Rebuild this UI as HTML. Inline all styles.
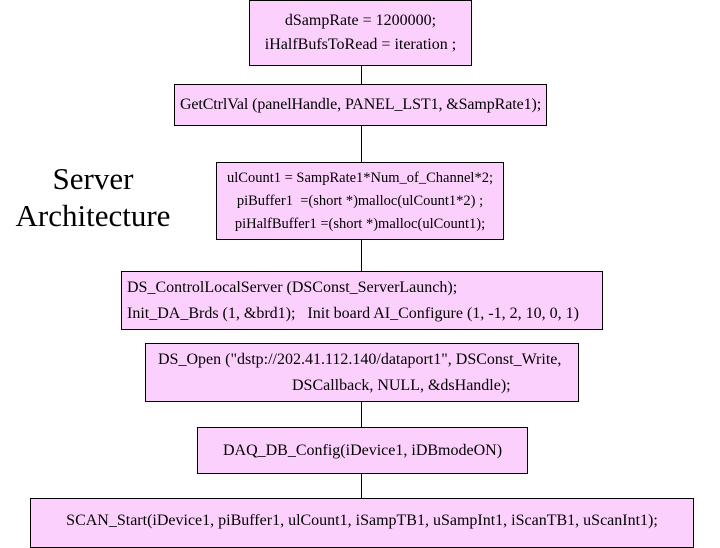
<!DOCTYPE html>
<html><head><style>
body{margin:0;width:720px;height:540px;background:#fff;position:relative;overflow:hidden;font-family:"Liberation Serif",serif;}
.b{position:absolute;background:#fcd0fc;border:1.5px solid #000;box-sizing:border-box;font-size:16px;color:#000;white-space:nowrap;}
.c{text-align:center;}
.l{position:absolute;width:1px;background:#000;left:361px;}
.t{position:absolute;left:0;width:186px;text-align:center;font-size:31px;line-height:37px;top:160px;}
</style></head><body>
<div class="l" style="top:66px;height:18px"></div>
<div class="l" style="top:126px;height:36px"></div>
<div class="l" style="top:240px;height:31px"></div>
<div class="l" style="top:402px;height:25px"></div>
<div class="l" style="top:474px;height:24px"></div>

<div class="b c" style="left:249px;top:0;width:223px;height:66px;line-height:24px;padding-top:8px;">dSampRate = 1200000;<br>iHalfBufsToRead = iteration ;</div>
<div class="b c" style="left:174px;top:84px;width:373px;height:42px;line-height:40px;letter-spacing:-0.1px;">GetCtrlVal (panelHandle, PANEL_LST1, &amp;SampRate1);</div>
<div class="t">Server<br>Architecture</div>
<div class="b c" style="left:216px;top:162px;width:288px;height:78px;line-height:23px;padding-top:4px;font-size:14.5px;">ulCount1 = SampRate1*Num_of_Channel*2;<br>piBuffer1 &nbsp;=(short *)malloc(ulCount1*2) ;<br>piHalfBuffer1 =(short *)malloc(ulCount1);</div>
<div class="b" style="left:121px;top:271px;width:482px;height:59px;line-height:26px;padding:3px 0 0 5px;">DS_ControlLocalServer (DSConst_ServerLaunch);<br>Init_DA_Brds (1, &amp;brd1); &nbsp; Init board AI_Configure (1, -1, 2, 10, 0, 1)</div>
<div class="b" style="left:145px;top:343px;width:434px;height:59px;line-height:26px;padding:3px 0 0 12px;">DS_Open ("dstp://202.41.112.140/dataport1", DSConst_Write,<br><span style="padding-left:134px">DSCallback, NULL, &amp;dsHandle);</span></div>
<div class="b c" style="left:197px;top:427px;width:331px;height:47px;line-height:45px;">DAQ_DB_Config(iDevice1, iDBmodeON)</div>
<div class="b c" style="left:30px;top:498px;width:664px;height:50px;line-height:44px;">SCAN_Start(iDevice1, piBuffer1, ulCount1, iSampTB1, uSampInt1, iScanTB1, uScanInt1);</div>
</body></html>
